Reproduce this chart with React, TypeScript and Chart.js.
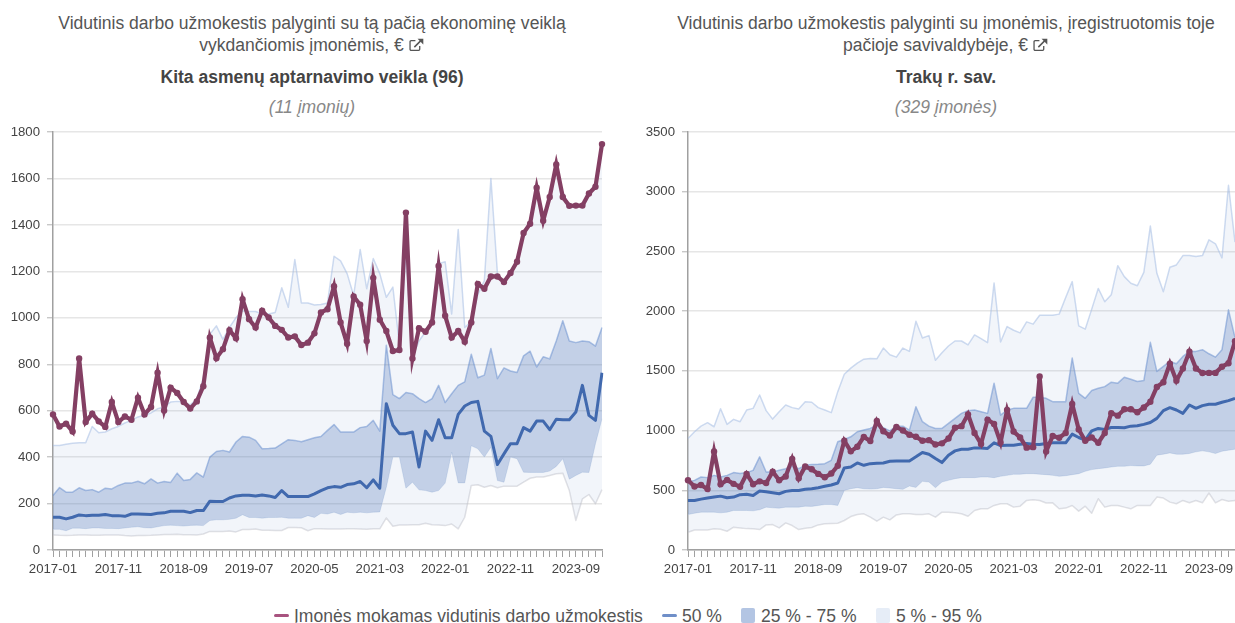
import React, { useEffect, useRef } from "react";
import { Chart, registerables } from "chart.js";

Chart.register(...registerables);

const months: string[] = [
  "2017-01","2017-02","2017-03","2017-04","2017-05","2017-06","2017-07","2017-08","2017-09","2017-10","2017-11","2017-12",
  "2018-01","2018-02","2018-03","2018-04","2018-05","2018-06","2018-07","2018-08","2018-09","2018-10","2018-11","2018-12",
  "2019-01","2019-02","2019-03","2019-04","2019-05","2019-06","2019-07","2019-08","2019-09","2019-10","2019-11","2019-12",
  "2020-01","2020-02","2020-03","2020-04","2020-05","2020-06","2020-07","2020-08","2020-09","2020-10","2020-11","2020-12",
  "2021-01","2021-02","2021-03","2021-04","2021-05","2021-06","2021-07","2021-08","2021-09","2021-10","2021-11","2021-12",
  "2022-01","2022-02","2022-03","2022-04","2022-05","2022-06","2022-07","2022-08","2022-09","2022-10","2022-11","2022-12",
  "2023-01","2023-02","2023-03","2023-04","2023-05","2023-06","2023-07","2023-08","2023-09","2023-10","2023-11","2023-12",
  "2024-01",
];

const company = [
  584,532,544,510,825,551,587,554,530,637,551,575,561,656,584,616,763,601,699,676,637,609,640,705,
  915,826,865,947,912,1080,994,958,1030,1001,965,948,915,920,883,893,933,1023,1037,1136,980,888,1092,1056,
  900,1172,992,943,857,861,1453,825,955,940,980,1223,1009,915,943,897,980,1146,1125,1178,1178,1154,1193,1241,
  1365,1405,1560,1418,1520,1660,1520,1482,1483,1483,1535,1564,1748,
];

const leftP95 = [
  450,450,455,460,462,462,532,505,508,522,532,547,558,573,580,590,608,616,637,640,637,625,650,740,
  929,965,907,958,1001,1030,1027,1027,1016,1016,1023,1129,1045,1251,1064,1064,1055,1057,1064,1265,1245,1190,1096,1294,
  1125,1255,1190,1088,1132,885,1280,830,900,940,1000,1233,1241,1016,1380,958,985,1100,1160,1600,1190,1150,1190,1240,
  1360,1400,1540,1410,1520,1640,1540,1480,1480,1480,1530,1560,1745,
];
const leftP75 = [
  235,269,249,249,268,256,260,249,266,263,278,288,288,296,285,306,288,295,291,331,299,304,332,314,
  400,424,429,422,465,489,486,472,436,437,439,457,475,472,466,475,483,489,515,540,508,508,508,527,
  532,558,512,882,669,652,678,673,652,635,652,709,635,673,709,724,843,742,753,868,738,784,771,764,
  836,856,788,832,823,900,987,900,893,900,897,878,958,
];
const leftP50 = [
  141,141,134,141,151,148,150,150,153,148,148,145,155,155,154,153,158,160,167,167,167,161,170,170,
  210,209,209,224,233,236,236,233,237,233,226,256,230,230,230,230,242,256,268,273,270,282,285,295,
  268,302,266,630,537,501,501,508,357,512,472,561,483,483,584,620,635,640,512,489,368,414,458,458,
  527,512,555,555,518,563,561,561,594,709,580,558,763,
];
const leftP25 = [
  89,89,83,94,94,92,95,95,93,93,92,95,98,100,96,95,100,105,107,105,103,106,107,105,
  127,130,130,132,137,152,140,140,137,140,140,141,137,137,137,148,140,158,155,163,153,163,160,163,
  160,163,164,270,400,400,266,292,259,256,249,256,288,421,289,289,449,436,400,443,299,292,400,393,
  335,334,334,334,340,360,393,305,321,335,334,458,565,
];
const leftP5 = [
  65,63,62,63,65,65,63,63,65,65,65,62,60,62,62,63,65,67,67,68,66,66,65,69,
  80,80,80,82,78,88,88,90,85,85,84,84,97,97,96,83,92,92,90,90,90,92,91,90,
  89,91,91,138,102,108,108,109,109,115,109,108,105,112,91,141,278,281,270,278,268,275,275,275,
  292,309,314,314,321,328,331,256,127,220,239,199,260,
];

const rightP95 = [
  934,990,1037,1066,1032,1183,1052,1094,1074,1172,1186,1298,1167,1096,1158,1214,1192,1180,1242,1237,1192,1172,1150,1326,
  1472,1523,1565,1598,1604,1601,1691,1635,1615,1691,1663,1915,1775,1795,1588,1652,1708,1750,1750,1717,1801,1770,1736,2236,
  1742,1871,1840,1818,1910,1891,1966,1966,1966,1975,2115,2247,1877,1849,2017,2190,2079,2137,2381,2289,2233,2213,2325,2712,
  2317,2163,2367,2387,2465,2465,2457,2465,2597,2564,2446,3054,2578,
];
const rightP75 = [
  569,583,611,606,625,611,625,648,640,648,667,780,653,653,667,681,701,681,709,715,718,723,751,906,
  925,948,990,1004,1018,1046,1024,998,1037,1037,1004,1200,1074,1037,1018,1018,1060,1102,1144,1167,1172,1158,1144,1397,
  1130,1172,1186,1186,1186,1279,1279,1270,1242,1242,1242,1607,1312,1270,1335,1354,1368,1405,1397,1447,1430,1411,1419,1739,
  1495,1537,1579,1559,1621,1663,1663,1677,1643,1615,1677,2011,1778,
];
const rightP50 = [
  415,415,426,435,443,451,437,443,463,466,457,494,488,480,471,491,499,499,508,513,522,533,544,561,
  687,695,729,709,723,726,729,743,746,746,746,780,816,802,766,732,794,830,844,844,855,855,850,897,
  875,878,878,886,892,886,883,892,897,897,897,970,942,920,998,1018,1010,1026,1026,1024,1037,1040,1052,1068,
  1102,1167,1192,1172,1144,1214,1186,1209,1220,1220,1237,1251,1270,
];
const rightP25 = [
  297,308,317,317,317,311,317,331,331,331,328,337,359,353,350,359,359,359,367,365,373,381,381,373,
  499,513,522,513,510,513,524,519,513,508,536,524,575,569,522,569,583,597,606,606,606,611,611,606,
  617,625,634,634,639,639,634,631,625,617,622,631,639,659,673,681,687,695,701,701,707,704,704,718,
  794,802,813,802,802,808,822,830,822,808,827,836,844,
];
const rightP5 = [
  149,168,168,168,177,174,157,191,185,179,177,171,210,213,185,227,205,171,182,188,210,219,222,224,
  247,280,297,303,275,241,275,252,294,303,303,297,297,303,275,317,317,311,303,283,331,345,345,373,
  387,387,359,367,415,421,415,393,395,345,351,373,325,367,308,429,359,373,373,359,345,373,373,373,
  443,435,401,387,415,395,415,395,477,395,423,409,415,
];

const yTicksLeft = { max: 1800, step: 200 };
const yTicksRight = { max: 3500, step: 500 };

const titleLeft = ["Vidutinis darbo užmokestis palyginti su tą pačią ekonominę veiklą", "vykdančiomis įmonėmis, €"];
const titleRight = ["Vidutinis darbo užmokestis palyginti su įmonėmis, įregistruotomis toje", "pačioje savivaldybėje, €"];
const headLeft = "Kita asmenų aptarnavimo veikla (96)";
const headRight = "Trakų r. sav.";
const noteLeft = "(11 įmonių)";
const noteRight = "(329 įmonės)";
const legendLabels = ["Įmonės mokamas vidutinis darbo užmokestis", "50 %", "25 % - 75 %", "5 % - 95 %"];

const FONT = '"Liberation Sans", Arial, sans-serif';

type Panel = { p95: number[]; p75: number[]; p50: number[]; p25: number[]; p5: number[]; max: number; step: number };

function LineChart({ p95, p75, p50, p25, p5, max, step, paddingRight }: Panel & { paddingRight: number }) {
  const ref = useRef<HTMLCanvasElement>(null);
  useEffect(() => {
    const chart = new Chart(ref.current as HTMLCanvasElement, {
      type: "line",
      data: {
        labels: months,
        datasets: [
          { label: "p95", data: p95, order: 5, fill: { target: 1 }, backgroundColor: "rgba(102,140,200,0.085)", borderColor: "rgba(165,190,228,0.55)", borderWidth: 1.5, borderJoinStyle: "round", pointRadius: 0, tension: 0 },
          { label: "p5", data: p5, order: 6, fill: false, borderColor: "rgba(190,190,198,0.45)", borderWidth: 1.5, borderJoinStyle: "round", pointRadius: 0, tension: 0 },
          { label: "p75", data: p75, order: 3, fill: { target: 3 }, backgroundColor: "rgba(70,110,180,0.27)", borderColor: "rgba(100,140,205,0.5)", borderWidth: 1.5, borderJoinStyle: "round", pointRadius: 0, tension: 0 },
          { label: "p25", data: p25, order: 4, fill: false, borderColor: "rgba(190,205,230,0.5)", borderWidth: 1, borderJoinStyle: "round", pointRadius: 0, tension: 0 },
          { label: "p50", data: p50, order: 2, fill: false, borderColor: "#4169ae", borderWidth: 3, borderJoinStyle: "round", pointRadius: 0, tension: 0 },
          { label: "company", data: company, order: 1, fill: false, borderColor: "#843f63", backgroundColor: "#843f63", borderWidth: 4.2, pointRadius: 3.2, pointBorderWidth: 0, tension: 0 },
        ],
      },
      options: {
        animation: false,
        responsive: false,
        layout: { padding: { top: 12, right: paddingRight, bottom: 0, left: 0 } },
        plugins: { legend: { display: false }, tooltip: { enabled: false } },
        scales: {
          x: {
            type: "category",
            afterFit: (s: any) => { s.height = 40; },
            grid: { drawOnChartArea: false, drawTicks: true, tickLength: 7, tickColor: "#a0a0a0", tickWidth: 1 },
            border: { color: "#a0a0a0", width: 1.5 },
            ticks: {
              autoSkip: false, maxRotation: 0, minRotation: 0, padding: 4,
              color: "#444", font: { family: FONT, size: 13.2 },
              callback: (_v: any, i: number) => (i % 10 === 0 ? months[i] : ""),
            },
          },
          y: {
            min: 0, max,
            afterFit: (s: any) => { s.width = 53; s.paddingTop = 0; s.paddingBottom = 0; },
            grid: { color: "#e6e6e6", lineWidth: 1.4, tickLength: 6, tickColor: "#c8c8c8" },
            border: { color: "#a0a0a0", width: 1.5 },
            ticks: { stepSize: step, padding: 7, color: "#444", font: { family: FONT, size: 13.2 }, callback: (v: any) => String(v) },
          },
        },
      },
    } as any);
    return () => chart.destroy();
  }, []);
  return <canvas ref={ref} width={617} height={470} style={{ display: "block", width: 617, height: 470 }} />;
}

function LinkIcon() {
  return (
    <svg width="17" height="14" viewBox="0 0 15 13" style={{ marginLeft: 4, verticalAlign: "-1px" }}>
      <path d="M10.5 7.5v3a1 1 0 0 1-1 1H2.5a1 1 0 0 1-1-1V3.5a1 1 0 0 1 1-1h4" fill="none" stroke="#555" strokeWidth="1.2" />
      <path d="M5.5 8.5 12 2" fill="none" stroke="#555" strokeWidth="1.4" />
      <path d="M8.5 0.8h5.3v5.3z" fill="#555" />
    </svg>
  );
}

function Heading({ cx, title, head, note }: { cx: number; title: string[]; head: string; note: string }) {
  const base: React.CSSProperties = { position: "absolute", left: cx - 300, width: 600, textAlign: "center", fontFamily: FONT, whiteSpace: "nowrap", lineHeight: "20px", fontSize: 17.55 };
  return (
    <>
      <div style={{ ...base, top: 13, color: "#555" }}>{title[0]}</div>
      <div style={{ ...base, top: 35, color: "#555" }}>{title[1]}<LinkIcon /></div>
      <div style={{ ...base, top: 67, color: "#444", fontWeight: 700 }}>{head}</div>
      <div style={{ ...base, top: 97, color: "#888", fontStyle: "italic" }}>{note}</div>
    </>
  );
}

export default function App() {
  const item: React.CSSProperties = { position: "absolute", top: 606, fontFamily: FONT, fontSize: 17.55, lineHeight: "20px", color: "#555", whiteSpace: "nowrap" };
  const dash = (left: number, color: string): React.CSSProperties => ({ position: "absolute", left, top: 614, width: 15, height: 3, borderRadius: 2, background: color });
  const box = (left: number, color: string): React.CSSProperties => ({ position: "absolute", left, top: 608, width: 14, height: 15, borderRadius: 2, background: color });
  return (
    <div style={{ position: "absolute", left: 0, top: 0, width: 1235, height: 623, overflow: "hidden", background: "#fff" }}>
      <Heading cx={312} title={titleLeft} head={headLeft} note={noteLeft} />
      <Heading cx={946} title={titleRight} head={headRight} note={noteRight} />
      <div style={{ position: "absolute", left: 0, top: 120 }}>
        <LineChart p95={leftP95} p75={leftP75} p50={leftP50} p25={leftP25} p5={leftP5} max={yTicksLeft.max} step={yTicksLeft.step} paddingRight={15} />
      </div>
      <div style={{ position: "absolute", left: 634.5, top: 120, width: 601 }}>
        <LineChart p95={rightP95} p75={rightP75} p50={rightP50} p25={rightP25} p5={rightP5} max={yTicksRight.max} step={yTicksRight.step} paddingRight={17} />
      </div>
      <div style={dash(274, "#a8537f")} />
      <div style={{ ...item, left: 294 }}>{legendLabels[0]}</div>
      <div style={dash(662, "#6f8fc8")} />
      <div style={{ ...item, left: 682 }}>{legendLabels[1]}</div>
      <div style={box(741, "#b3c5e3")} />
      <div style={{ ...item, left: 761 }}>{legendLabels[2]}</div>
      <div style={box(876, "#e6edf7")} />
      <div style={{ ...item, left: 896 }}>{legendLabels[3]}</div>
    </div>
  );
}
